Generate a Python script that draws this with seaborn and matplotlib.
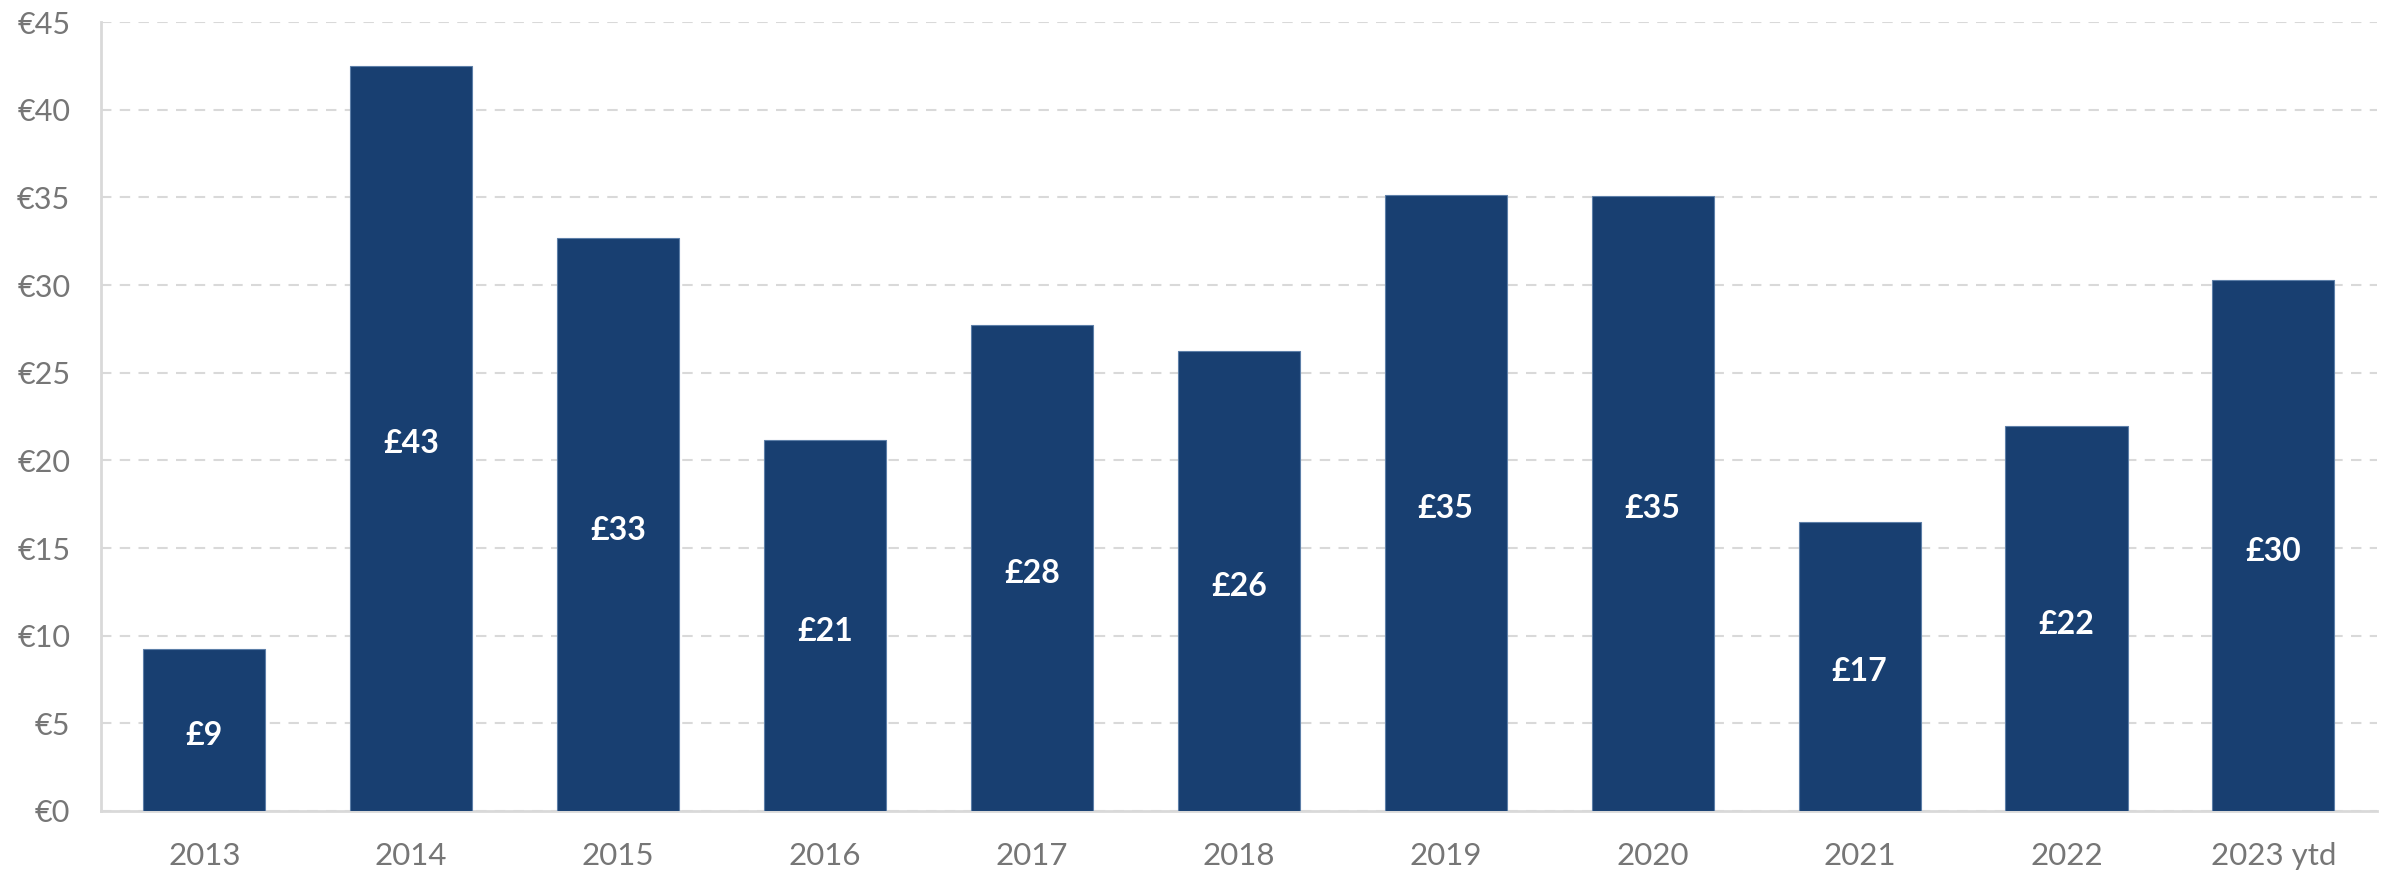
import matplotlib
matplotlib.use('Agg')
import matplotlib.pyplot as plt
import seaborn as sns
import pandas as pd

years = ['2013', '2014', '2015', '2016', '2017', '2018', '2019', '2020', '2021', '2022', '2023 ytd']
values = [9.24, 42.5, 32.67, 21.15, 27.7, 26.25, 35.16, 35.08, 16.5, 21.95, 30.27]
bar_labels = ['£9', '£43', '£33', '£21', '£28', '£26', '£35', '£35', '£17', '£22', '£30']
y_ticks = [0, 5, 10, 15, 20, 25, 30, 35, 40, 45]

BAR = '#183f71'
GRID = '#d9d9d9'
TEXT = '#767676'

sns.set_style('white')
plt.rcParams['font.family'] = ['Lato', 'DejaVu Sans']

df = pd.DataFrame({'year': years, 'value': values})

fig = plt.figure(figsize=(23.85, 8.71), dpi=100)
ax = fig.add_axes([0.0423, 0.0689, 0.9543, 0.9058])

sns.barplot(data=df, x='year', y='value', color=BAR, saturation=1, width=0.59,
            edgecolor='#5d7fa8', linewidth=0.8, ax=ax, zorder=3)

# labels sit in the middle of each bar (a touch below the mid point)
for patch, lab in zip(ax.patches, bar_labels):
    cx = patch.get_x() + patch.get_width() / 2
    cy = patch.get_height() / 2
    ax.annotate(lab, (cx, cy), xytext=(0, -15), textcoords='offset pixels',
                ha='center', va='baseline', color='white',
                fontsize=23, fontweight='bold', zorder=4)

ax.set_xlim(-0.5, 10.5)
ax.set_ylim(0, 45)
ax.set_yticks(y_ticks)
ax.set_yticklabels(['€%d' % t for t in y_ticks])
ax.set_xlabel('')
ax.set_ylabel('')
ax.yaxis.grid(True, color=GRID, linestyle=(0, (5, 4)), linewidth=1.5, zorder=0)
ax.xaxis.grid(False)
ax.tick_params(axis='y', labelsize=22, colors=TEXT, length=0, pad=22)
ax.tick_params(axis='x', labelsize=22.5, colors=TEXT, length=0, pad=22)

for side in ['top', 'right']:
    ax.spines[side].set_visible(False)
for side in ['left', 'bottom']:
    ax.spines[side].set_color(GRID)
    ax.spines[side].set_linewidth(2)

fig.savefig('out.png', dpi=100)
